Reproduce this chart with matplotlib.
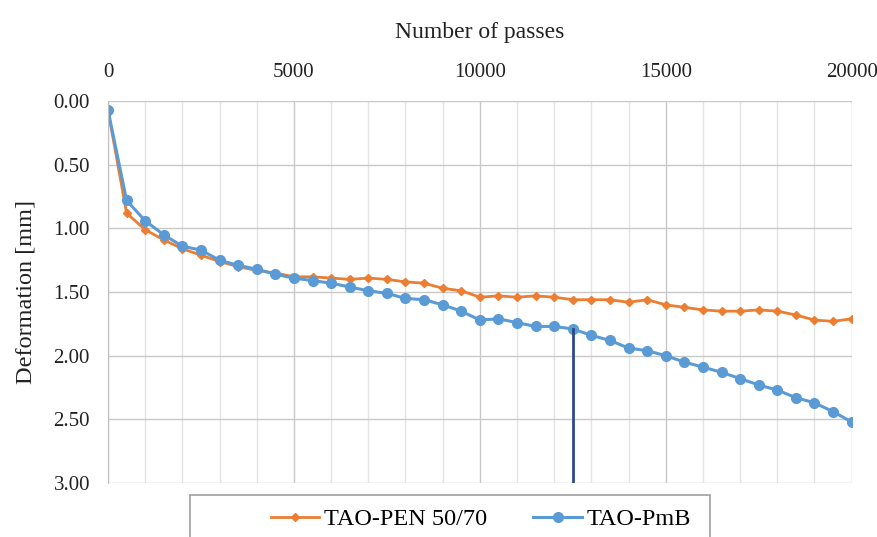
import matplotlib.pyplot as plt
from matplotlib.patches import Rectangle
from matplotlib.ticker import MultipleLocator, FormatStrFormatter

plt.rcParams['font.family'] = ['Liberation Serif', 'DejaVu Serif']

# datos
passes = list(range(0, 20001, 500))
pen_5070 = [0.07, 0.88, 1.01, 1.09, 1.16, 1.21, 1.26, 1.30, 1.33, 1.35,
            1.38, 1.38, 1.39, 1.40, 1.39, 1.40, 1.42, 1.43, 1.47, 1.49,
            1.54, 1.53, 1.54, 1.53, 1.54, 1.56, 1.56, 1.56, 1.58, 1.56,
            1.60, 1.62, 1.64, 1.65, 1.65, 1.64, 1.65, 1.68, 1.72, 1.73,
            1.71]
pmb = [0.07, 0.78, 0.94, 1.05, 1.14, 1.17, 1.25, 1.29, 1.32, 1.36,
       1.39, 1.41, 1.43, 1.46, 1.49, 1.51, 1.55, 1.56, 1.60, 1.65,
       1.72, 1.71, 1.74, 1.77, 1.77, 1.79, 1.84, 1.88, 1.94, 1.96,
       2.00, 2.05, 2.09, 2.13, 2.18, 2.23, 2.27, 2.33, 2.37, 2.44,
       2.52]
marker_x = 12500

orange = "#ED7D31"
blue = "#5B9BD5"

fig = plt.figure(figsize=(8.78, 5.37), dpi=100)
ax = fig.add_axes([0.123, 0.1006, 0.847, 0.711])

ax.plot(passes, pen_5070, color=orange, lw=2, marker="D", ms=4, label="TAO-PEN 50/70")
ax.plot(passes, pmb, color=blue, lw=2.2, marker="o", ms=7, label="TAO-PmB")

# linea vertical en 12500
y_mark = pmb[passes.index(marker_x)]
ax.plot([marker_x, marker_x], [y_mark, 3.0], color="#2F4A8A", lw=2, zorder=4)

ax.set_xlim(0, 20000)
ax.set_ylim(3.0, 0.0)
ax.xaxis.set_major_locator(MultipleLocator(5000))
ax.xaxis.set_minor_locator(MultipleLocator(1000))
ax.yaxis.set_major_locator(MultipleLocator(0.5))
ax.yaxis.set_major_formatter(FormatStrFormatter("%.2f"))
ax.xaxis.tick_top()
ax.xaxis.set_label_position("top")
ax.tick_params(which="both", length=0, labelsize=15, colors="#222222")
ax.tick_params(axis="x", pad=14)
ax.tick_params(axis="y", pad=13)

ax.grid(which="major", color="#C8C8C8", lw=1)
ax.grid(which="minor", axis="x", color="#E4E4E4", lw=1)
ax.set_axisbelow(True)
for s in ["top", "right", "bottom"]:
    ax.spines[s].set_visible(False)
ax.spines["left"].set_color("#BFBFBF")

ax.set_xlabel("Number of passes", fontsize=17, labelpad=18, color="#222222")
ax.set_ylabel("Deformation [mm]", fontsize=17.5, labelpad=12, color="#222222")

# leyenda en caja cortada abajo
fig.patches.append(Rectangle((190 / 878, -0.05), 520 / 878, 0.05 + 42 / 537,
                             transform=fig.transFigure, fill=False,
                             edgecolor="#A0A0A0", lw=1.2))
fig.legend(loc="center", bbox_to_anchor=(481 / 878, 1 - 519 / 537), ncol=2,
           frameon=False, fontsize=17.5, handlelength=2.0, columnspacing=1.9,
           handletextpad=0.2)

plt.savefig("out.png")
plt.close()
